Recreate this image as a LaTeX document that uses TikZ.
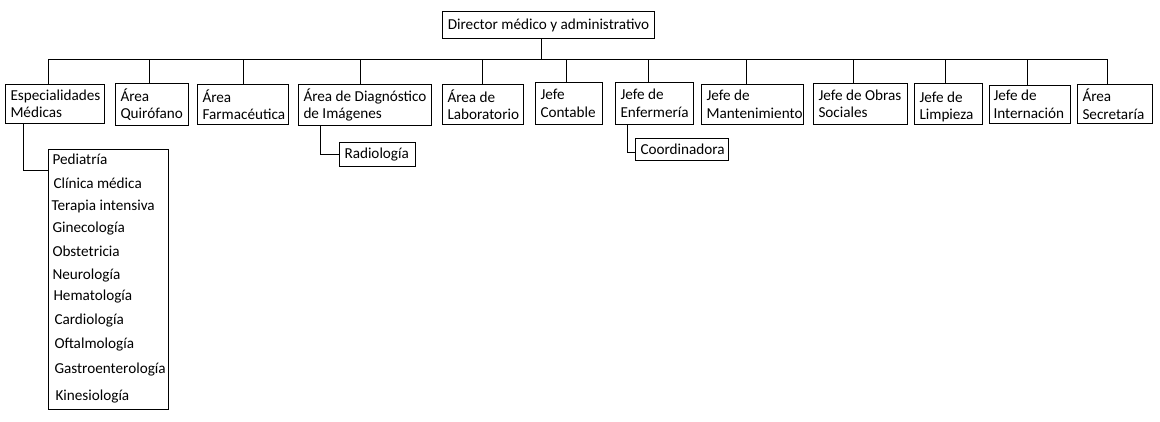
\documentclass[tikz,border=0pt]{standalone}
\usepackage{fontspec}
\setmainfont{Carlito}
\begin{document}
\begin{tikzpicture}[x=1pt,y=-1pt, line width=1pt,
  every node/.style={font=\fontsize{15.2}{17.5}\selectfont},
  box/.style={draw, anchor=north west, inner sep=0pt},
  lbl/.style={anchor=west, inner sep=0pt, align=left, xshift=5pt},
  item/.style={anchor=base west, inner sep=0pt}]
\useasboundingbox (0,0) rectangle (1160,421);
% top
\node[box, minimum width=212pt, minimum height=27pt] (dir) at (442,11) {};
\node[inner sep=0pt] (dirl) at (dir.center) {Director médico y administrativo};
% level-1 boxes
\node[box, minimum width=99pt, minimum height=39pt] (esp) at (5,84) {};
\node[lbl] (espl) at (esp.west) {Especialidades\\Médicas};
\node[box, minimum width=73pt, minimum height=42pt] (quir) at (115,83) {};
\node[lbl] (quirl) at (quir.west) {Área\\Quirófano};
\node[box, minimum width=91pt, minimum height=40pt] (farm) at (197,84) {};
\node[lbl] (farml) at (farm.west) {Área\\Farmacéutica};
\node[box, minimum width=133pt, minimum height=41pt] (diag) at (298,84) {};
\node[lbl] (diagl) at (diag.west) {Área de Diagnóstico\\de Imágenes};
\node[box, minimum width=81pt, minimum height=40pt] (lab) at (442,84) {};
\node[lbl] (labl) at (lab.west) {Área de\\Laboratorio};
\node[box, minimum width=67pt, minimum height=42pt] (cont) at (535,82) {};
\node[lbl] (contl) at (cont.west) {Jefe\\Contable};
\node[box, minimum width=78pt, minimum height=42pt] (enf) at (615,82) {};
\node[lbl] (enfl) at (enf.west) {Jefe de\\Enfermería};
\node[box, minimum width=102pt, minimum height=40pt] (mant) at (701,84) {};
\node[lbl] (mantl) at (mant.west) {Jefe de\\Mantenimiento};
\node[box, minimum width=94pt, minimum height=41pt] (obras) at (813,83) {};
\node[lbl] (obrasl) at (obras.west) {Jefe de Obras\\Sociales};
\node[box, minimum width=68pt, minimum height=41pt] (limp) at (914,83) {};
\node[lbl] (limpl) at ([yshift=-3pt]limp.west) {Jefe de\\Limpieza};
\node[box, minimum width=81pt, minimum height=38pt] (intern) at (989,85) {};
\node[lbl,xshift=-1pt] (internl) at (intern.west) {Jefe de\\Internación};
\node[box, minimum width=75pt, minimum height=39pt] (secr) at (1077,84) {};
\node[lbl] (secrl) at (secr.west) {Área\\Secretaría};
% sub boxes
\node[box, minimum width=76pt, minimum height=24pt] (radio) at (339,142) {};
\node[lbl] (radiol) at (radio.west) {Radiología};
\node[box, minimum width=93pt, minimum height=22pt] (coord) at (635,138) {};
\node[lbl] (coordl) at (coord.west) {Coordinadora};
\node[box, minimum width=120pt, minimum height=260pt] (list) at (48,149) {};
\node[item] (i1) at (52,164) {Pediatría};
\node[item] (i2) at (53,188) {Clínica médica};
\node[item] (i3) at (51,210) {Terapia intensiva};
\node[item] (i4) at (52,232) {Ginecología};
\node[item] (i5) at (52,256) {Obstetricia};
\node[item] (i6) at (52,279) {Neurología};
\node[item] (i7) at (53,300) {Hematología};
\node[item] (i8) at (54,324) {Cardiología};
\node[item] (i9) at (54,348) {Oftalmología};
\node[item] (i10) at (54,373) {Gastroenterología};
\node[item] (i11) at (55,400) {Kinesiología};
% bus and stems
\coordinate (d) at (541,59);
\coordinate (s1) at (48,59);
\coordinate (s2) at (149,59);
\coordinate (s3) at (243,59);
\coordinate (s4) at (360,59);
\coordinate (s5) at (482,59);
\coordinate (s6) at (566,59);
\coordinate (s7) at (648,59);
\coordinate (s8) at (746,59);
\coordinate (s9) at (853,59);
\coordinate (s10) at (945,59);
\coordinate (s11) at (1027,59);
\coordinate (s12) at (1107,59);
\draw (s1) -- (s12);
\draw (d) -- (d |- dir.south);
\draw (s1) -- (s1 |- esp.north);
\draw (s2) -- (s2 |- quir.north);
\draw (s3) -- (s3 |- farm.north);
\draw (s4) -- (s4 |- diag.north);
\draw (s5) -- (s5 |- lab.north);
\draw (s6) -- (s6 |- cont.north);
\draw (s7) -- (s7 |- enf.north);
\draw (s8) -- (s8 |- mant.north);
\draw (s9) -- (s9 |- obras.north);
\draw (s10) -- (s10 |- limp.north);
\draw (s11) -- (s11 |- intern.north);
\draw (s12) -- (s12 |- secr.north);
% sub connectors
\draw ([xshift=18pt]esp.south west) |- ([yshift=-21pt]list.north west);
\draw ([xshift=22pt]diag.south west) |- (radio.west);
\draw ([xshift=12pt]enf.south west) |- ([yshift=-3pt]coord.west);
\end{tikzpicture}
\end{document}
